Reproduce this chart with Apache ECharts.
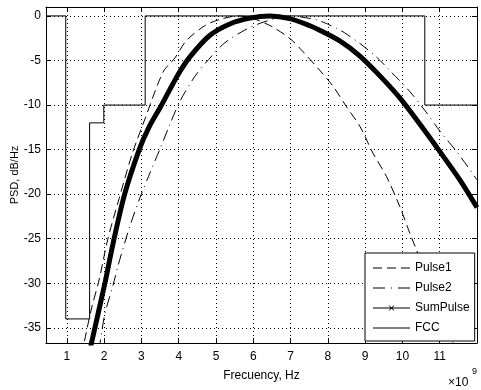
<!DOCTYPE html>
<html>
<head>
<meta charset="utf-8">
<script src="https://cdn.jsdelivr.net/npm/echarts@6/dist/echarts.min.js"></script>
<style>
  html, body { margin: 0; padding: 0; background: #fff; }
  #chart { width: 481px; height: 390px; }
</style>
</head>
<body>
<div id="chart"></div>
<script>
// frequency in units of 1e9 Hz, PSD in dB/Hz
var pulse1Freq = [1.38, 1.46, 1.65, 1.87, 2.10, 2.40, 2.75, 3.10, 3.58, 3.90, 4.20, 4.70, 5.10, 5.60, 6.00, 6.50, 7.00, 7.33, 7.78, 8.14, 8.50, 8.86, 9.21, 9.57, 9.93, 10.20, 10.38, 10.80, 11.36, 11.45];
var pulse1Db   = [-38.0, -36.7, -33.0, -29.5, -25.0, -20.5, -15.5, -11.5, -6.3, -4.7, -2.8, -1.1, -0.4, 0.0, -0.3, -1.2, -2.6, -4.0, -6.1, -7.9, -10.2, -12.4, -15.4, -18.0, -21.4, -24.4, -26.3, -31.0, -36.7, -38.0];

var pulse2Freq = [1.85, 1.89, 2.02, 2.24, 2.38, 2.69, 2.96, 3.23, 3.49, 3.76, 4.03, 4.43, 4.80, 5.24, 5.77, 6.20, 6.60, 7.00, 7.40, 7.70, 7.96, 8.23, 8.45, 8.86, 9.30, 9.70, 10.20, 10.60, 11.00, 11.45, 11.80, 12.00];
var pulse2Db   = [-37.5, -36.7, -33.4, -30.2, -27.9, -23.6, -20.4, -17.6, -15.0, -12.2, -9.6, -6.8, -4.9, -3.0, -1.6, -0.8, -0.3, 0.0, -0.2, -0.45, -0.85, -1.4, -1.9, -3.1, -4.6, -6.3, -8.5, -10.6, -12.9, -15.2, -17.2, -18.4];

var sumFreq = [1.60, 1.66, 2.02, 2.24, 2.55, 2.94, 3.20, 3.54, 3.98, 4.30, 4.83, 5.37, 5.91, 6.44, 6.98, 7.52, 7.78, 8.32, 8.86, 9.39, 9.93, 10.46, 11.00, 11.54, 12.00];
var sumDb   = [-38.0, -36.7, -30.0, -25.5, -20.0, -15.0, -12.5, -10.0, -6.6, -4.6, -2.2, -0.9, -0.25, 0.0, -0.3, -1.1, -1.6, -2.8, -4.5, -6.7, -9.2, -12.1, -15.2, -18.4, -21.5];

var fccFreq = [0.44, 0.97, 0.97, 1.61, 1.61, 1.99, 1.99, 3.10, 3.10, 10.60, 10.60, 12.00];
var fccDb   = [0, 0, -34, -34, -12, -12, -10, -10, 0, 0, -10, -10];

var xTicks = [1, 2, 3, 4, 5, 6, 7, 8, 9, 10, 11];
var yTicks = [-35, -30, -25, -20, -15, -10, -5, 0];

var font = "'Liberation Sans', Arial, sans-serif";

function pairs(xs, ys) {
  return xs.map(function (x, i) { return [x, ys[i]]; });
}

// legend icons, 37 x 5 box (corner specks keep the box size)
var box = 'M0,0L0.01,0L0,0.01Z M37,5L36.99,5L37,4.99Z ';
var iconDash = box + 'M0,2L9,2L9,3L0,3Z M14,2L23,2L23,3L14,3Z M28,2L37,2L37,3L28,3Z';
var iconDashDot = box + 'M0,2L12,2L12,3L0,3Z M18,2L19,2L19,3L18,3Z M25,2L37,2L37,3L25,3Z';
var iconCross = box + 'M0,2L37,2L37,3L0,3Z M15.5,0L16.5,0L21.5,5L20.5,5Z M20.5,0L21.5,0L16.5,5L15.5,5Z';
var iconSolid = box + 'M0,2L37,2L37,3L0,3Z';

function xAxisOpt(pos, showLabel) {
  return {
    type: 'value', position: pos, min: 0.44, max: 12,
    axisLine: { show: true, onZero: false, lineStyle: { color: '#000', width: 1 } },
    axisTick: { show: true, inside: true, length: 5, customValues: xTicks, lineStyle: { color: '#000' } },
    axisLabel: { show: showLabel, customValues: xTicks, color: '#000', fontSize: 12, fontFamily: font, margin: 8 },
    splitLine: { show: showLabel, lineStyle: { color: '#000', type: [1, 3], width: 1 } }
  };
}

function yAxisOpt(pos, showLabel) {
  return {
    type: 'value', position: pos, min: -36.7, max: 1,
    axisLine: { show: true, onZero: false, lineStyle: { color: '#000', width: 1 } },
    axisTick: { show: true, inside: true, length: 5, customValues: yTicks, lineStyle: { color: '#000' } },
    axisLabel: { show: showLabel, customValues: yTicks, color: '#000', fontSize: 12, fontFamily: font, margin: 5 },
    splitLine: { show: showLabel, lineStyle: { color: '#000', type: [1, 3], width: 1 } }
  };
}

var xBottom = xAxisOpt('bottom', true);
xBottom.name = 'Frecuency, Hz';
xBottom.nameLocation = 'middle';
xBottom.nameGap = 27;
xBottom.nameMoveOverlap = false;
xBottom.nameTextStyle = { color: '#000', fontSize: 12, fontFamily: font };

var yLeft = yAxisOpt('left', true);
yLeft.name = 'PSD, dB/Hz';
yLeft.nameLocation = 'middle';
yLeft.nameGap = 26;
yLeft.nameMoveOverlap = false;
yLeft.nameTextStyle = { color: '#000', fontSize: 11, fontFamily: font };

var chart = echarts.init(document.getElementById('chart'));
chart.setOption({
  animation: false,
  backgroundColor: '#fff',
  grid: { left: 46, right: 4, top: 7, bottom: 47, containLabel: false, outerBoundsMode: 'none' },
  xAxis: [xBottom, xAxisOpt('top', false)],
  yAxis: [yLeft, yAxisOpt('right', false)],
  legend: {
    orient: 'vertical', left: 365, top: 253,
    padding: [9, 5, 7, 8], itemGap: 8, itemWidth: 37, itemHeight: 5,
    backgroundColor: '#fff', borderColor: '#000', borderWidth: 1, borderRadius: 0,
    textStyle: { color: '#000', fontSize: 12, fontFamily: font },
    data: [
      { name: 'Pulse1', icon: 'path://' + iconDash },
      { name: 'Pulse2', icon: 'path://' + iconDashDot },
      { name: 'SumPulse', icon: 'path://' + iconCross },
      { name: 'FCC', icon: 'path://' + iconSolid }
    ]
  },
  graphic: [
    { type: 'text', left: 448, top: 377, style: { text: '×10', fill: '#000', font: '12px ' + font } },
    { type: 'text', left: 472, top: 367, style: { text: '9', fill: '#000', font: '9px ' + font } }
  ],
  series: [
    {
      name: 'Pulse1', type: 'line', symbol: 'none', smooth: 0.3,
      data: pairs(pulse1Freq, pulse1Db),
      lineStyle: { color: '#000', width: 1, type: [9, 5] },
      itemStyle: { color: '#000' }
    },
    {
      name: 'Pulse2', type: 'line', symbol: 'none', smooth: 0.3,
      data: pairs(pulse2Freq, pulse2Db),
      lineStyle: { color: '#000', width: 1, type: [11, 5, 1, 5] },
      itemStyle: { color: '#000' }
    },
    {
      name: 'SumPulse', type: 'line', symbol: 'none', smooth: 0.3,
      data: pairs(sumFreq, sumDb),
      lineStyle: { color: '#000', width: 5 },
      itemStyle: { color: '#000' }
    },
    {
      name: 'FCC', type: 'line', symbol: 'none',
      data: pairs(fccFreq, fccDb),
      lineStyle: { color: '#000', width: 1 },
      itemStyle: { color: '#000' }
    }
  ]
});
</script>
</body>
</html>
